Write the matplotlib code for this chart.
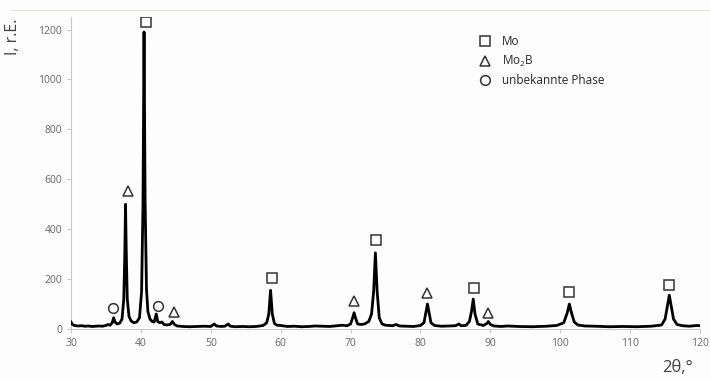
import matplotlib.pyplot as plt
from matplotlib.lines import Line2D

# diffractogram (2theta in deg, intensity in r.E.)
two_theta = [30.0, 30.2, 30.5, 31.0, 31.5, 32.0, 32.5, 33.0, 33.5, 34.0, 34.5, 35.0, 35.3, 35.6,
             35.9, 36.1, 36.3, 36.6, 37.0, 37.3, 37.55, 37.7, 37.8, 37.9, 38.05, 38.3, 38.6,
             39.0, 39.4, 39.8, 40.1, 40.3, 40.45, 40.6, 40.8, 41.0, 41.3, 41.6, 41.9, 42.2,
             42.4, 42.7, 43.0, 43.3, 43.7, 44.2, 44.5, 44.8, 45.2, 46.0, 47.0, 48.0, 49.0,
             50.0, 50.5, 50.8, 51.5, 52.0, 52.5, 52.8, 53.5, 54.5, 55.5, 56.5, 57.5, 58.0,
             58.3, 58.55, 58.8, 59.1, 59.5, 60.0, 61.0, 62.0, 63.0, 64.0, 65.0, 66.0, 67.0,
             68.0, 68.8, 69.5, 70.0, 70.3, 70.5, 70.7, 71.0, 71.5, 72.0, 72.6, 73.0, 73.3,
             73.55, 73.8, 74.1, 74.5, 75.0, 76.0, 76.5, 77.0, 78.0, 79.0, 80.0, 80.5, 80.8,
             81.0, 81.2, 81.5, 82.0, 83.0, 84.0, 85.0, 85.5, 85.8, 86.5, 87.0, 87.3, 87.55,
             87.8, 88.2, 89.0, 89.5, 89.7, 90.0, 90.5, 91.5, 92.5, 94.0, 96.0, 98.0, 99.5,
             100.5, 101.0, 101.3, 101.6, 102.0, 102.5, 103.5, 105.0, 107.0, 109.0, 111.0,
             113.0, 114.5, 115.0, 115.35, 115.6, 115.85, 116.2, 116.7, 117.5, 118.5, 119.5,
             120.0]
intensity = [28, 18, 14, 12, 13, 11, 12, 10, 11, 12, 11, 14, 18, 15,
             25, 45, 28, 20, 24, 40, 120, 300, 500, 320, 120, 50, 32,
             25, 28, 45, 150, 500, 1190, 520, 160, 70, 40, 30, 28, 60,
             30, 25, 28, 18, 16, 18, 30, 18, 12, 10, 9, 10, 11,
             10, 20, 12, 10, 11, 20, 11, 9, 10, 9, 10, 14, 25,
             60, 155, 60, 22, 15, 14, 10, 11, 9, 10, 12, 11, 10,
             13, 15, 13, 20, 45, 65, 45, 20, 18, 20, 30, 60, 150,
             305, 150, 45, 20, 15, 13, 18, 12, 11, 10, 14, 25, 70,
             100, 70, 25, 14, 11, 12, 13, 20, 13, 14, 30, 70, 120,
             60, 20, 14, 22, 30, 18, 12, 10, 12, 10, 9, 11, 14,
             25, 65, 100, 65, 28, 16, 12, 11, 9, 10, 9,
             11, 16, 40, 95, 135, 95, 40, 18, 13, 11, 14,
             13]

# phase markers above the peaks
mo_x = [40.7, 58.7, 73.7, 87.6, 101.3, 115.6]
mo_y = [1232, 204, 356, 164, 148, 176]
mo2b_x = [38.1, 44.8, 70.5, 80.9, 89.7]
mo2b_y = [552, 68, 112, 144, 64]
unk_x = [36.0, 42.5]
unk_y = [84, 92]

fig = plt.figure(figsize=(7.1, 3.79), dpi=100)
fig.patch.set_facecolor('#fdfdfd')
ax = fig.add_axes([0.1, 0.132, 0.886, 0.823])
ax.set_facecolor('#fdfdfd')

ax.plot(two_theta, intensity, color='black', lw=2.0, solid_joinstyle='round', zorder=3)

mk = dict(linestyle='none', mfc='none', mec='#333333', mew=1.1)
ax.plot(mo_x, mo_y, marker='s', ms=7.5, label='Mo', **mk)
ax.plot(mo2b_x, mo2b_y, marker='^', ms=7.5, label=r'Mo$_\mathregular{2}$B', **mk)
ax.plot(unk_x, unk_y, marker='o', ms=7, label='unbekannte Phase', **mk)

ax.set_xlim(30, 120)
ax.set_ylim(0, 1250)
ax.set_xticks(range(30, 121, 10))
ax.set_yticks(range(0, 1201, 200))

for s in ['top', 'right']:
    ax.spines[s].set_visible(False)
ax.spines['left'].set_color('#c8c8c8')
ax.spines['bottom'].set_color('#c8c8c8')
ax.tick_params(colors='#c8c8c8', labelcolor='#666666', labelsize=7.5, length=3)
for lab in ax.get_xticklabels() + ax.get_yticklabels():
    lab.set_family('Open Sans')

ax.set_ylabel('I, r.E.', fontsize=11.5, color='#404040', family='Open Sans')
ax.yaxis.set_label_coords(-0.08, 0.936)
ax.set_xlabel('2θ,°', fontsize=12, color='#404040', family='Open Sans')
ax.xaxis.set_label_coords(0.964, -0.1)

leg = ax.legend(loc='upper left', bbox_to_anchor=(0.63, 0.975), frameon=False,
                prop={'family': 'Open Sans', 'size': 8.5}, handletextpad=0.8,
                labelspacing=0.45, handlelength=1.2)
for t in leg.get_texts():
    t.set_color('#262626')

fig.add_artist(Line2D([0.015, 1.0], [0.973, 0.973], color='#e6e6dc', lw=0.8))

fig.savefig('out.png', dpi=100, facecolor=fig.get_facecolor())
